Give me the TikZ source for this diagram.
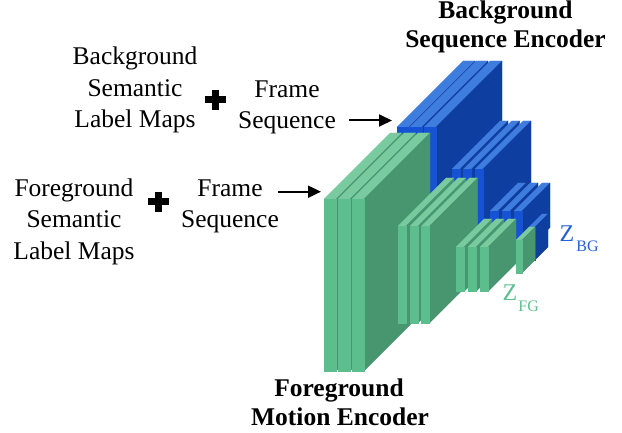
\documentclass[tikz,border=0pt]{standalone}
\usepackage{fontspec}
\setmainfont{Liberation Serif}
\usetikzlibrary{arrows.meta}
\definecolor{gfront}{RGB}{92,190,140}
\definecolor{gtop}{RGB}{122,202,160}
\definecolor{gside}{RGB}{72,150,112}
\definecolor{bfront}{RGB}{22,82,212}
\definecolor{btop}{RGB}{62,124,222}
\definecolor{bside}{RGB}{14,62,160}
\definecolor{zbg}{RGB}{35,95,210}
\definecolor{zfg}{RGB}{92,190,140}
% x y w h d colour-prefix
\newcommand{\slabbox}[6]{%
 \fill[#6top,draw=#6top,line width=0.2pt] (#1,#2) -- ++(#3,0) -- ++(#5,-#5) -- ++(-#3,0) -- cycle;
 \fill[#6side,draw=#6side,line width=0.2pt] (#1+#3,#2) -- ++(#5,-#5) -- ++(0,#4) -- ++(-#5,#5) -- cycle;
 \fill[#6front,draw=#6front,line width=0.2pt] (#1,#2) rectangle ++(#3,#4);
}
\begin{document}
\begin{tikzpicture}[x=1pt,y=-1pt,
  txt/.style={font=\fontsize{25.5}{31.5}\selectfont,inner sep=0pt,anchor=base},
  btxt/.style={font=\fontsize{25.5}{31.5}\selectfont\bfseries,inner sep=0pt,anchor=base},
  arr/.style={line width=2pt,-{Triangle[length=13pt,width=12pt]}},
  plussign/.style={fill=black}]
\useasboundingbox (0,0) rectangle (622,433);
% background encoder (blue)
\foreach \x in {397,410,424} {\slabbox{\x}{127}{12}{172}{66}{b}}
\foreach \x in {452,463.5,475} {\slabbox{\x}{169}{8}{97}{48}{b}}
\foreach \x in {490,502,514} {\slabbox{\x}{211}{8}{44.5}{28}{b}}
\slabbox{529}{227}{6}{33}{13}{b}
% foreground encoder (green)
\foreach \x in {324,338,352} {\slabbox{\x}{199}{12}{172}{66}{g}}
\foreach \x in {398,410,421.5} {\slabbox{\x}{226}{8}{97}{48}{g}}
\foreach \x in {456,468,480} {\slabbox{\x}{247}{8}{44.5}{28}{g}}
\slabbox{516}{240}{6}{33}{13}{g}
% texts
\node[txt] (bg1) at (135,65) {Background};
\node[txt] (bg2) at (135,96.7) {Semantic};
\node[txt] (bg3) at (135,128) {Label Maps};
\node[txt] (fs1) at (287,97.5) {Frame};
\node[txt] (fs2) at (287,129) {Sequence};
\node[txt] (fg1) at (74,196.7) {Foreground};
\node[txt] (fg2) at (74,228) {Semantic};
\node[txt] (fg3) at (74,260) {Label Maps};
\node[txt] (fr1) at (230,196.7) {Frame};
\node[txt] (fr2) at (230,228) {Sequence};
\node[btxt] (be1) at (505.5,19) {Background};
\node[btxt] (be2) at (505.5,48) {Sequence Encoder};
\node[btxt] (fe1) at (339,396.7) {Foreground};
\node[btxt] (fe2) at (340,425) {Motion Encoder};
\node[inner sep=0pt,anchor=base west,text=zbg,font=\fontsize{24}{24}\selectfont] (zb) at (559.5,241.7) {Z\hspace{2pt}\raisebox{-9.5pt}{\fontsize{16}{16}\selectfont BG}};
\node[inner sep=0pt,anchor=base west,text=zfg,font=\fontsize{24}{24}\selectfont] (zf) at (502.5,301) {Z\hspace{1pt}\raisebox{-10.5pt}{\fontsize{16}{16}\selectfont FG}};
% plus signs
\fill[plussign] (204.5,96.5) rectangle (225.5,103.5);
\fill[plussign] (211.5,90) rectangle (218.5,110.5);
\fill[plussign] (148.3,198.5) rectangle (169.3,205.5);
\fill[plussign] (155.3,192) rectangle (162.3,212);
% arrows
\coordinate (a1s) at (349,120.5);
\coordinate (a1e) at (392,120.5);
\coordinate (a2s) at (278,191.7);
\coordinate (a2e) at (321,191.7);
\draw[arr] (a1s) -- (a1e);
\draw[arr] (a2s) -- (a2e);
\end{tikzpicture}
\end{document}
